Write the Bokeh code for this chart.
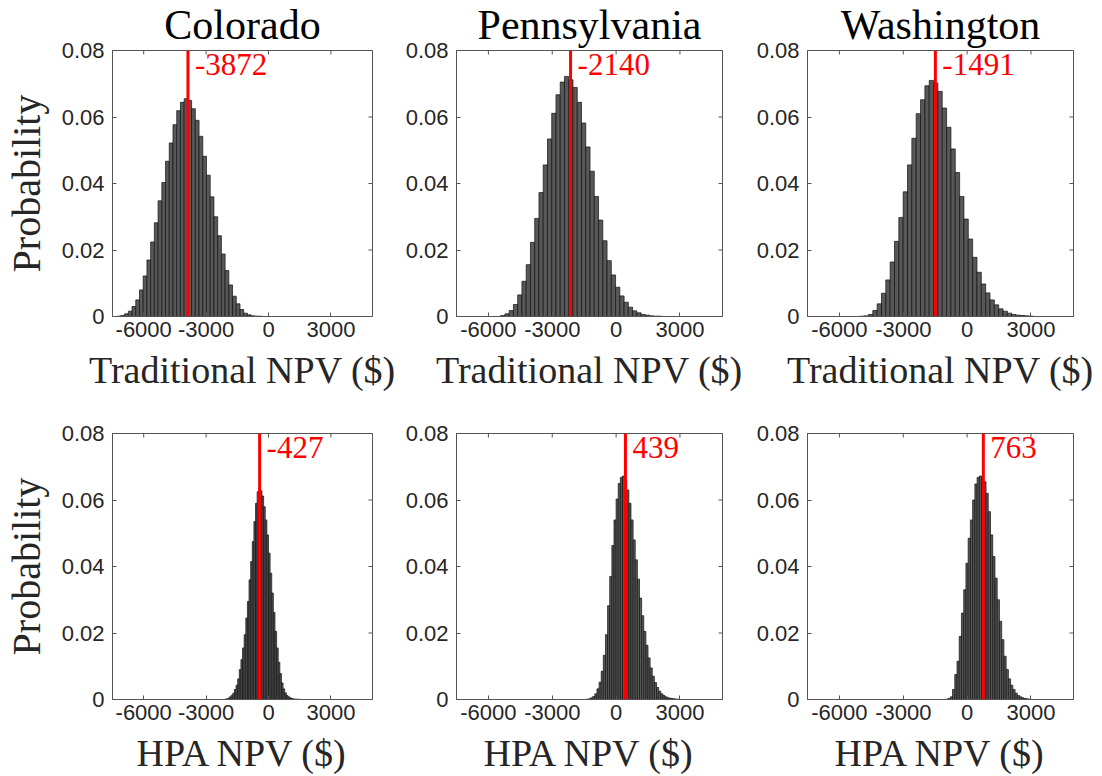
import numpy as np
from bokeh.plotting import figure
from bokeh.models import (Range1d, FixedTicker, PrintfTickFormatter, Span, Label, Title)
from bokeh.layouts import row, column
from bokeh.embed import file_html
from bokeh.resources import INLINE

# ---------------- data ----------------
states = ["Colorado", "Pennsylvania", "Washington"]
x_axis_titles = ["Traditional NPV ($)", "HPA NPV ($)"]
y_axis_title = "Probability"
x_ticks = [-6000, -3000, 0, 3000]
y_ticks = [0, 0.02, 0.04, 0.06, 0.08]
x_limits = [-7500, 5000]
y_limits = [0, 0.08]

mean_traditional = [-3872, -2140, -1491]
mean_hpa = [-427, 439, 763]

# histogram bins: first left edge, bin width, probabilities per bin
trad_co_start, trad_co_width = -7277, 179
trad_co_prob = [0.0001, 0.0003, 0.0008, 0.0016, 0.0030, 0.0050, 0.0080, 0.0122, 0.0170,
                0.0224, 0.0282, 0.0348, 0.0403, 0.0467, 0.0522, 0.0577, 0.0619, 0.0644,
                0.0655, 0.0650, 0.0625, 0.0590, 0.0542, 0.0482, 0.0425, 0.0360, 0.0300,
                0.0243, 0.0188, 0.0138, 0.0095, 0.0061, 0.0038, 0.0021, 0.0010, 0.0005,
                0.0002, 0.0001, 0.0001]

trad_pa_start, trad_pa_width = -5425, 200
trad_pa_prob = [0.0003, 0.0008, 0.0018, 0.0036, 0.0065, 0.0106, 0.0156, 0.0223, 0.0295,
                0.0373, 0.0456, 0.0534, 0.0611, 0.0667, 0.0705, 0.0722, 0.0712, 0.0689,
                0.0644, 0.0582, 0.0510, 0.0437, 0.0361, 0.0290, 0.0228, 0.0168, 0.0125,
                0.0088, 0.0062, 0.0043, 0.0028, 0.0017, 0.0011, 0.0006, 0.0004, 0.0002,
                0.0001, 0.0001]

trad_wa_start, trad_wa_width = -5044, 204
trad_wa_prob = [0.0001, 0.0002, 0.0006, 0.0018, 0.0038, 0.0070, 0.0110, 0.0164, 0.0226,
                0.0298, 0.0375, 0.0456, 0.0536, 0.0610, 0.0652, 0.0694, 0.0710, 0.0702,
                0.0677, 0.0627, 0.0569, 0.0504, 0.0433, 0.0361, 0.0293, 0.0233, 0.0178,
                0.0133, 0.0098, 0.0071, 0.0050, 0.0035, 0.0023, 0.0016, 0.0010, 0.0006,
                0.0004, 0.0003, 0.0002, 0.0001]

hpa_co_start, hpa_co_width = -2106, 78
hpa_co_prob = [0.0001, 0.0002, 0.0004, 0.0008, 0.0013, 0.0019, 0.0030, 0.0043, 0.0062,
               0.0090, 0.0120, 0.0155, 0.0195, 0.0245, 0.0295, 0.0360, 0.0415, 0.0475,
               0.0535, 0.0590, 0.0625, 0.0635, 0.0628, 0.0612, 0.0580, 0.0540, 0.0495,
               0.0440, 0.0380, 0.0320, 0.0262, 0.0205, 0.0155, 0.0112, 0.0078, 0.0050,
               0.0032, 0.0020, 0.0012, 0.0008, 0.0005, 0.0003, 0.0002, 0.0001, 0.0001,
               0.0001]

hpa_pa_start, hpa_pa_width = -1400, 100
hpa_pa_prob = [0.0001, 0.0002, 0.0005, 0.0009, 0.0017, 0.0032, 0.0052, 0.0085, 0.0133,
               0.0195, 0.0282, 0.0370, 0.0463, 0.0540, 0.0603, 0.0650, 0.0668, 0.0672,
               0.0658, 0.0630, 0.0590, 0.0540, 0.0480, 0.0420, 0.0362, 0.0305, 0.0252,
               0.0205, 0.0163, 0.0125, 0.0095, 0.0070, 0.0051, 0.0036, 0.0025, 0.0017,
               0.0012, 0.0008, 0.0005, 0.0004, 0.0003, 0.0002, 0.0001, 0.0001]

hpa_wa_start, hpa_wa_width = -1000, 105
hpa_wa_prob = [0.0001, 0.0003, 0.0008, 0.0030, 0.0075, 0.0115, 0.0190, 0.0260, 0.0330,
               0.0410, 0.0485, 0.0540, 0.0600, 0.0648, 0.0668, 0.0672, 0.0670, 0.0655,
               0.0620, 0.0565, 0.0495, 0.0430, 0.0365, 0.0300, 0.0235, 0.0180, 0.0130,
               0.0090, 0.0062, 0.0043, 0.0030, 0.0019, 0.0012, 0.0008, 0.0005, 0.0003,
               0.0002, 0.0001]

hist_rows = [
    [(trad_co_start, trad_co_width, trad_co_prob),
     (trad_pa_start, trad_pa_width, trad_pa_prob),
     (trad_wa_start, trad_wa_width, trad_wa_prob)],
    [(hpa_co_start, hpa_co_width, hpa_co_prob),
     (hpa_pa_start, hpa_pa_width, hpa_pa_prob),
     (hpa_wa_start, hpa_wa_width, hpa_wa_prob)],
]
means = [mean_traditional, mean_hpa]

# ---------------- layout / style ----------------
SERIF = "Liberation Serif"
SANS = "Liberation Sans"
TICK_COLOR = "#262626"
BOX_COLOR = "#555555"

col_widths = [400, 350, 352]
col_left = [106, 56, 57]
row_heights = [400, 376]
row_top = [49, 33]
FRAME_W, FRAME_H = 266, 267


def style_axis(ax):
    ax.axis_line_color = BOX_COLOR
    ax.axis_line_width = 1
    ax.major_tick_line_color = BOX_COLOR
    ax.major_tick_in = 4
    ax.major_tick_out = 0
    ax.minor_tick_line_color = None
    ax.major_label_text_font = SANS
    ax.major_label_text_font_size = "22px"
    ax.major_label_text_color = TICK_COLOR


def make_panel(r, c):
    start, width, prob = hist_rows[r][c]
    prob = np.array(prob)
    left = start + width * np.arange(len(prob))
    right = left + width
    w = col_widths[c]
    h = row_heights[r]
    p = figure(width=w, height=h, output_backend="svg", toolbar_location=None,
               x_range=Range1d(*x_limits), y_range=Range1d(*y_limits),
               min_border_left=col_left[c],
               min_border_right=w - col_left[c] - FRAME_W,
               min_border_top=row_top[r],
               min_border_bottom=h - row_top[r] - FRAME_H)
    p.background_fill_color = "white"
    p.border_fill_color = "white"
    p.outline_line_color = BOX_COLOR
    p.grid.visible = False

    p.quad(left=left, right=right, bottom=0, top=prob,
           fill_color="#585858", line_color="#111111", line_width=0.7)

    # ticks on the top and right edges of the box (pointing inward)
    p.scatter(x=x_ticks, y=[y_limits[1]] * len(x_ticks), marker="dash",
              angle=np.pi / 2, size=8, line_color=BOX_COLOR, line_width=1)
    p.scatter(x=[x_limits[1]] * len(y_ticks), y=y_ticks, marker="dash",
              size=8, line_color=BOX_COLOR, line_width=1)

    m = means[r][c]
    p.add_layout(Span(location=m, dimension="height", line_color="#ff0000",
                      line_width=3))
    p.add_layout(Label(x=m, y=y_limits[1], text=str(m), x_offset=7, y_offset=-3,
                       text_baseline="top", text_align="left",
                       text_color="#ff0000", text_font=SERIF,
                       text_font_size="31px"))

    if r == 0:
        p.add_layout(Title(text=states[c], align="center", text_font=SERIF,
                           text_font_size="42px", text_font_style="normal",
                           text_color="#000000", standoff=2,
                           vertical_align="top"), "above")

    xa = p.xaxis[0]
    xa.ticker = FixedTicker(ticks=x_ticks)
    xa.formatter = PrintfTickFormatter(format="%d")
    style_axis(xa)
    xa.major_label_standoff = 5
    xa.axis_label = x_axis_titles[r]
    xa.axis_label_text_font = SERIF
    xa.axis_label_text_font_style = "normal"
    xa.axis_label_text_font_size = "38px"
    xa.axis_label_text_color = TICK_COLOR
    xa.axis_label_standoff = 9

    ya = p.yaxis[0]
    ya.ticker = FixedTicker(ticks=y_ticks)
    ya.formatter = PrintfTickFormatter(format="%g")
    style_axis(ya)
    ya.major_label_standoff = 8
    if c == 0:
        ya.axis_label = y_axis_title
        ya.axis_label_text_font = SERIF
        ya.axis_label_text_font_style = "normal"
        ya.axis_label_text_font_size = "40px"
        ya.axis_label_text_color = TICK_COLOR
        ya.axis_label_standoff = 10
    return p


rows = []
for r in range(2):
    rows.append(row(*[make_panel(r, c) for c in range(3)], spacing=0))
layout = column(*rows, spacing=0)

open("out.html", "w").write(file_html(layout, INLINE))
